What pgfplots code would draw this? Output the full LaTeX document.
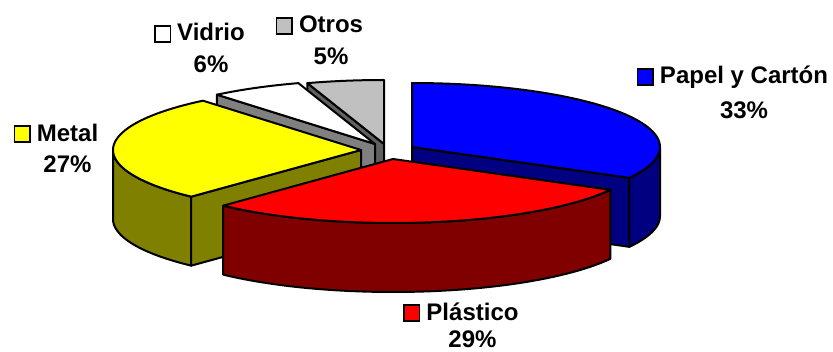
\documentclass[border=0pt]{standalone}
\usepackage{fontspec}
\setmainfont{Liberation Sans}
\usepackage{pgfplots}
\pgfplotsset{compat=1.18}
\definecolor{cBlue}{HTML}{0000FF}
\definecolor{cBlueS}{HTML}{000080}
\definecolor{cRed}{HTML}{FF0000}
\definecolor{cRedS}{HTML}{800000}
\definecolor{cYel}{HTML}{FFFF00}
\definecolor{cYelS}{HTML}{808000}
\definecolor{cWhite}{HTML}{FFFFFF}
\definecolor{cWhiteS}{HTML}{808080}
\definecolor{cGray}{HTML}{C0C0C0}
\definecolor{cGrayS}{HTML}{606060}
\newcommand{\keybox}[1]{{\setlength\fboxsep{0pt}\setlength\fboxrule{0.8pt}\fcolorbox{black}{#1}{\rule{0pt}{7pt}\rule{7pt}{0pt}}}}
% top face: cx cy a b colour
\newcommand{\pietop}[5]{%
\addplot[fill=#5,draw=black,line width=1pt,line join=round,domain=0:3,samples=151,variable=\s]
({#1+248*min(\s,1)*(1-max(\s-2,0))*cos(#3+(#4-(#3))*min(max(\s-1,0),1))},
 {#2-64*min(\s,1)*(1-max(\s-2,0))*sin(#3+(#4-(#3))*min(max(\s-1,0),1))}) -- cycle;}
% outer side: cx cy a b colour
\newcommand{\pieside}[5]{%
\addplot[fill=#5,draw=black,line width=1pt,line join=round,domain=0:3,samples=151,variable=\s]
({#1+248*cos(#3+(#4-(#3))*(min(\s,1)-max(\s-2,0)))},
 {#2-64*sin(#3+(#4-(#3))*(min(\s,1)-max(\s-2,0)))+69*min(max(\s-1,0),1)}) -- cycle;}
% radial face: cx cy angle colour
\newcommand{\pieradial}[4]{%
\addplot[fill=#4,draw=black,line width=1pt,line join=round,samples at={0,1,2,3},variable=\s]
({#1+248*(\s>0.5)*(\s<2.5)*cos(#3)},{#2-64*(\s>0.5)*(\s<2.5)*sin(#3)+69*(\s>1.5)}) -- cycle;}
\begin{document}
\begin{tikzpicture}
\begin{axis}[name=ax,width=416.5pt,height=176pt,scale only axis,
  xmin=0,xmax=833,ymin=0,ymax=352,y dir=reverse,hide axis,clip=false]
% shares: Papel y Carton 33, Plastico 29, Metal 27, Vidrio 6, Otros 5
% angles: 90 | -28.8 | -133.2 | -230.4 (129.6) | 108 | 90
% Otros
\pieradial{384}{144}{108}{cGrayS}
\pietop{384}{144}{90}{108}{cGray}
% Vidrio
\pieradial{375}{144}{129.6}{cWhiteS}
\pietop{375}{144}{108}{129.6}{cWhite}
% Papel y Carton
\pieradial{412}{147}{-28.8}{cBlueS}
\pieside{412}{147}{-28.8}{0}{cBlueS}
\pietop{412}{147}{-28.8}{90}{cBlue}
% Metal
\pieside{361}{150}{180}{226.8}{cYelS}
\pieradial{361}{150}{226.8}{cYelS}
\pietop{361}{150}{129.6}{226.8}{cYel}
% Plastico
\pieside{393}{159}{-133.2}{-28.8}{cRedS}
\pietop{393}{159}{-133.2}{-28.8}{cRed}
% labels
\begin{scope}[every node/.style={font=\fontsize{12}{14}\selectfont\bfseries,anchor=base,inner sep=0pt}]
\node at (axis cs:744,84) {\llap{\keybox{cBlue}\hspace{3pt}}Papel y Cartón};
\node at (axis cs:744,119) {33\%};
\node at (axis cs:67.5,141) {\llap{\keybox{cYel}\hspace{3pt}}Metal};
\node at (axis cs:67.5,173) {27\%};
\node at (axis cs:472.5,320) {\llap{\keybox{cRed}\hspace{3pt}}Plástico};
\node at (axis cs:472.5,347) {29\%};
\node at (axis cs:211,41) {\llap{\keybox{cWhite}\hspace{3pt}}Vidrio};
\node at (axis cs:211,73) {6\%};
\node at (axis cs:331,33) {\llap{\keybox{cGray}\hspace{3pt}}Otros};
\node at (axis cs:331,65) {5\%};
\end{scope}
\end{axis}
\pgfresetboundingbox
\path (ax.south west) rectangle (ax.north east);
\end{tikzpicture}
\end{document}
